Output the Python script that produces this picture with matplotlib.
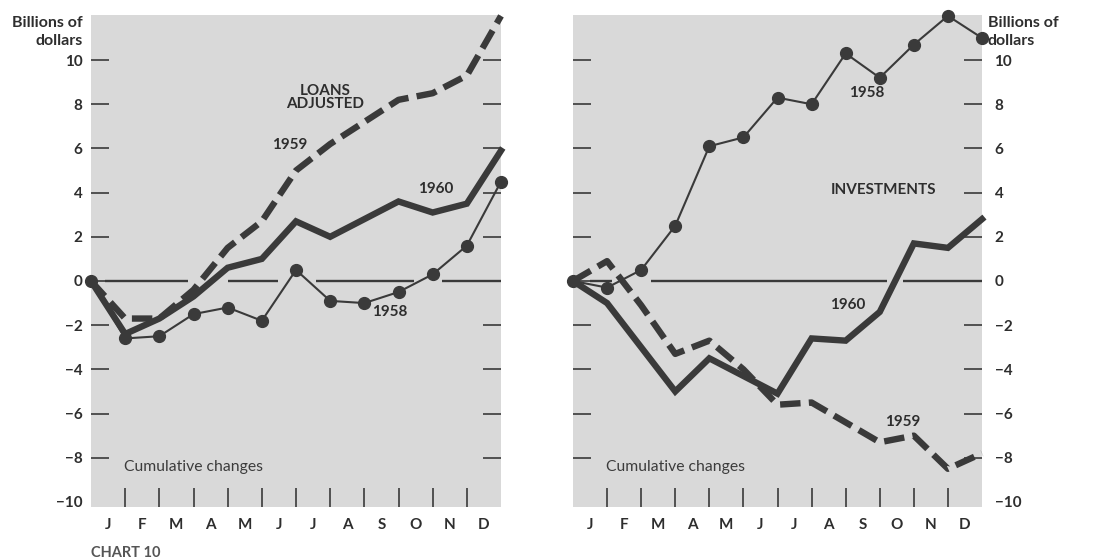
import numpy as np
import matplotlib
matplotlib.use("Agg")
import matplotlib.pyplot as plt

plt.rcParams['font.family'] = ['Lato', 'DejaVu Sans']

# month-end positions: 0 = start of year, 1..12 = end of each month
pos = np.arange(13)
months = ["J", "F", "M", "A", "M", "J", "J", "A", "S", "O", "N", "D"]
yticks = [-10, -8, -6, -4, -2, 0, 2, 4, 6, 8, 10]

# Loans adjusted, cumulative changes (billions of dollars)
loans_1958 = [0, -2.6, -2.5, -1.5, -1.2, -1.8, 0.5, -0.9, -1.0, -0.5, 0.3, 1.6, 4.5]
loans_1959 = [0, -1.7, -1.7, -0.4, 1.5, 2.7, 5.0, 6.2, 7.2, 8.2, 8.5, 9.3, 12.0]
loans_1960 = [0, -2.4, -1.7, -0.7, 0.6, 1.0, 2.7, 2.0, 2.8, 3.6, 3.1, 3.5, 5.9]

# Investments, cumulative changes (billions of dollars)
inv_1958 = [0, -0.3, 0.5, 2.5, 6.1, 6.5, 8.3, 8.0, 10.3, 9.2, 10.7, 12.0, 11.0]
inv_1959 = [0, 0.9, -1.1, -3.3, -2.7, -4.0, -5.6, -5.5, -6.4, -7.3, -7.0, -8.5, -7.8]
inv_1960 = [0, -1.0, -3.0, -5.0, -3.5, -4.3, -5.1, -2.6, -2.7, -1.4, 1.7, 1.5, 2.8]

bg = "#d9d9d9"
ink = "#3a3a3a"
txt = "#2e2e2e"

fig = plt.figure(figsize=(11.01, 5.59), dpi=100)
ax1 = fig.add_axes([91 / 1101, 52 / 559, 410 / 1101, 492 / 559])
ax2 = fig.add_axes([573 / 1101, 52 / 559, 409 / 1101, 492 / 559])


def setup(ax, side):
    ax.set_facecolor(bg)
    for s in ax.spines.values():
        s.set_visible(False)
    ax.set_xlim(0, 12)
    ax.set_ylim(-10.23, 12.04)
    # y ticks inside on both edges
    ax.set_yticks(yticks)
    ax.set_yticklabels([str(v).replace("-", "\u2212") for v in yticks])
    ax.tick_params(axis="y", direction="in", length=13, width=1.2, color=ink,
                   left=True, right=True, labelleft=(side == "left"),
                   labelright=(side == "right"), labelsize=11, labelcolor=txt,
                   pad=6 if side == "left" else 9)
    for lab in ax.get_yticklabels():
        lab.set_fontweight("bold")
    t = ax.yaxis.get_major_ticks()[0]
    t.tick1line.set_visible(False)
    t.tick2line.set_visible(False)
    # month boundary ticks and month letters
    ax.set_xticks(np.arange(1, 12))
    ax.set_xticklabels([])
    ax.tick_params(axis="x", which="major", direction="in", length=14,
                   width=1.2, color=ink)
    ax.set_xticks(np.arange(12) + 0.5, minor=True)
    ax.set_xticklabels(months, minor=True, fontweight="bold")
    ax.tick_params(axis="x", which="minor", length=0, pad=8, labelsize=11,
                   labelcolor=txt)


setup(ax1, "left")
setup(ax2, "right")

# zero line, broken where the curves cross it
for ax, spans in [(ax1, [(0.41, 2.84), (4.0, 5.47), (6.58, 9.45), (10.26, 12)]),
                  (ax2, [(0.5, 1.15), (2.3, 9.2), (9.68, 12)])]:
    for a, b in spans:
        ax.plot([a, b], [0, 0], color=ink, lw=1.7, solid_capstyle="butt", zorder=2)


def draw(ax, y58, y59, y60):
    ax.plot(pos, y58, color=ink, lw=1.5, marker="o", ms=8.5, zorder=4,
            clip_on=False)
    ax.plot(pos, y59, color=ink, lw=4.6, dashes=(3.2, 1.3),
            dash_capstyle="butt", zorder=3, clip_on=False)
    ax.plot(pos, y60, color=ink, lw=4.6, solid_joinstyle="miter", zorder=3,
            clip_on=False)


draw(ax1, loans_1958, loans_1959, loans_1960)
draw(ax2, inv_1958, inv_1959, inv_1960)

lab = dict(color=txt, fontsize=11, fontweight="bold", ha="center", va="center")
ax1.text(6.85, 8.3, "LOANS\nADJUSTED", linespacing=0.95, **lab)
ax1.text(5.82, 6.15, "1959", **lab)
ax1.text(10.1, 4.15, "1960", **lab)
ax1.text(8.75, -1.4, "1958", **lab)
ax2.text(8.63, 8.5, "1958", **lab)
ax2.text(9.1, 4.1, "INVESTMENTS", **lab)
ax2.text(8.07, -1.1, "1960", **lab)
ax2.text(9.68, -6.4, "1959", **lab)

for ax in (ax1, ax2):
    ax.text(0.97, -8.4, "Cumulative changes", color="#3c3c3c", fontsize=11.3,
            ha="left", va="center")

bil = dict(fontsize=11.5, fontweight="bold", color=txt, va="center")
fig.text(83 / 1101, 1 - 23 / 559, "Billions of", ha="right", **bil)
fig.text(83 / 1101, 1 - 41 / 559, "dollars", ha="right", **bil)
fig.text(988 / 1101, 1 - 23 / 559, "Billions of", ha="left", **bil)
fig.text(988 / 1101, 1 - 41 / 559, "dollars", ha="left", **bil)
fig.text(91 / 1101, 1 - 553 / 559, "CHART 10", ha="left", va="center",
         fontsize=10.5, fontweight="bold", color="#555555")

fig.savefig("out.png", dpi=100)
